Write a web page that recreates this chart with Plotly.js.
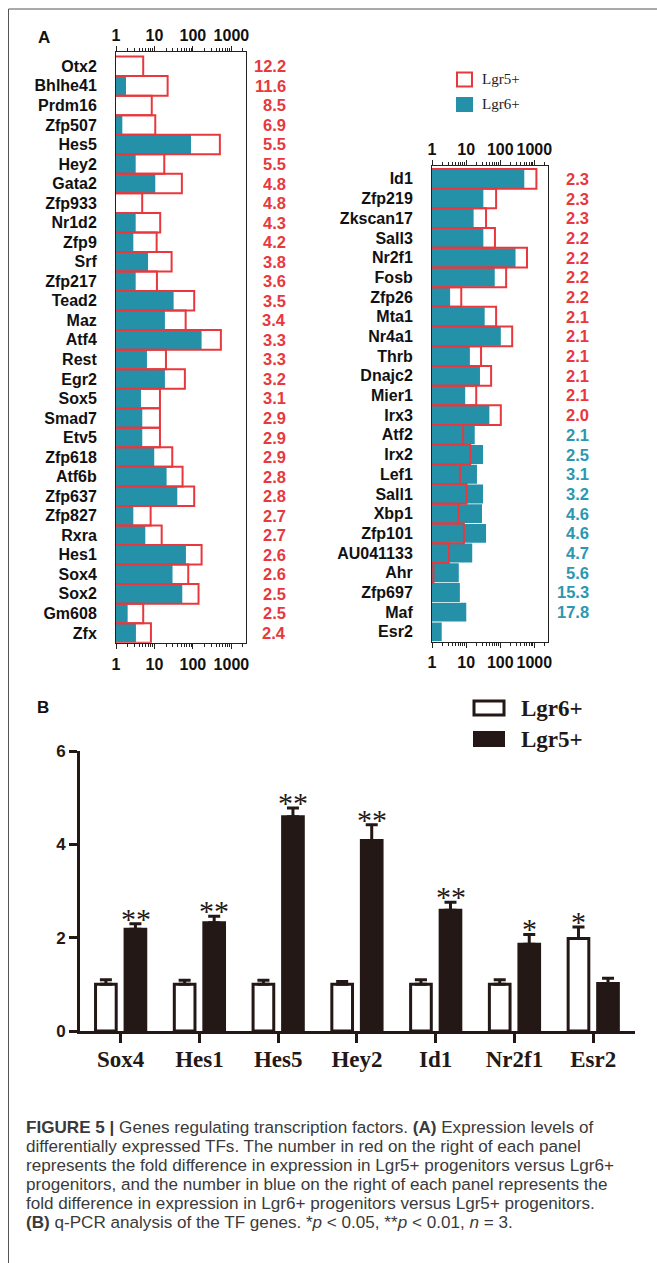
<!DOCTYPE html>
<html>
<head>
<meta charset="utf-8">
<script src="https://cdn.plot.ly/plotly-3.0.1.min.js"></script>
<style>html,body{margin:0;padding:0;background:#fff;}#chart{width:657px;height:1263px;}</style>
</head>
<body>
<div id="chart"></div>
<script>
// ---------- Panel A (left list) ----------
const genesL = ['Otx2','Bhlhe41','Prdm16','Zfp507','Hes5','Hey2','Gata2','Zfp933','Nr1d2','Zfp9','Srf','Zfp217','Tead2','Maz','Atf4','Rest','Egr2','Sox5','Smad7','Etv5','Zfp618','Atf6b','Zfp637','Zfp827','Rxra','Hes1','Sox4','Sox2','Gm608','Zfx'];
const lgr5L = [5.1, 22, 8.5, 10.5, 502, 18, 51.6, 4.8, 14.1, 11.4, 27.9, 11.6, 108, 64.7, 533, 19.9, 61.8, 13.9, 13.9, 13.9, 29, 53.8, 108, 7.95, 15.4, 168, 75.6, 140, 5.1, 8.1];
const lgr6L = [0.42, 1.82, 1.0, 1.46, 89, 3.25, 10.5, 1.0, 3.25, 2.82, 6.8, 3.25, 31.5, 18.7, 168, 6.38, 18.7, 4.46, 4.82, 4.82, 9.86, 20.7, 39.2, 2.82, 5.78, 65.8, 29.5, 52.8, 2.01, 3.3];
const foldL = ['12.2','11.6','8.5','6.9','5.5','5.5','4.8','4.8','4.3','4.2','3.8','3.6','3.5','3.4','3.3','3.3','3.2','3.1','2.9','2.9','2.9','2.8','2.8','2.7','2.7','2.6','2.6','2.5','2.5','2.4'];

// ---------- Panel A (right list) ----------
const genesR = ['Id1','Zfp219','Zkscan17','Sall3','Nr2f1','Fosb','Zfp26','Mta1','Nr4a1','Thrb','Dnajc2','Mier1','Irx3','Atf2','Irx2','Lef1','Sall1','Xbp1','Zfp101','AU041133','Ahr','Zfp697','Maf','Esr2'];
const lgr5R = [1148, 75.7, 38.4, 70, 609, 149, 7.2, 75.7, 224, 27.4, 54, 19.8, 104, 8.2, 13.2, 6.56, 10.3, 6.0, 8.6, 3.1, 1.1, 0.43, 0.57, null];
const lgr6R = [507, 32, 16.6, 32, 281, 69, 3.4, 35, 104, 12.9, 25.5, 9.4, 48, 17.9, 31.3, 20.8, 31.3, 29.2, 38.4, 15.1, 6.1, 6.56, 10.1, 1.93];
const foldR = ['2.3','2.3','2.3','2.2','2.2','2.2','2.2','2.1','2.1','2.1','2.1','2.1','2.0','2.1','2.5','3.1','3.2','4.6','4.6','4.7','5.6','15.3','17.8',''];
const foldHigherR = ['Lgr5','Lgr5','Lgr5','Lgr5','Lgr5','Lgr5','Lgr5','Lgr5','Lgr5','Lgr5','Lgr5','Lgr5','Lgr5','Lgr6','Lgr6','Lgr6','Lgr6','Lgr6','Lgr6','Lgr6','Lgr6','Lgr6','Lgr6',''];

const logTickVals = [1, 10, 100, 1000];
const logTickText = ['1', '10', '100', '1000'];

// ---------- Panel B ----------
const genesB = ['Sox4','Hes1','Hes5','Hey2','Id1','Nr2f1','Esr2'];
const lgr6B = [1.0, 1.0, 1.0, 1.0, 1.0, 1.0, 1.98];
const lgr6Err = [0.10, 0.09, 0.09, 0.06, 0.10, 0.10, 0.25];
const lgr5B = [2.18, 2.32, 4.59, 4.08, 2.59, 1.86, 1.02];
const lgr5Err = [0.12, 0.14, 0.19, 0.34, 0.17, 0.21, 0.11];
const sigLgr6 = ['', '', '', '', '', '', '*'];
const sigLgr5 = ['**', '**', '**', '**', '**', '*', ''];
const yTicksB = [0, 2, 4, 6];

// ---------- caption ----------
const captionLines = [
  '<b>FIGURE 5 |</b> Genes regulating transcription factors. <b>(A)</b> Expression levels of',
  'differentially expressed TFs. The number in red on the right of each panel',
  'represents the fold difference in expression in Lgr5+ progenitors versus Lgr6+',
  'progenitors, and the number in blue on the right of each panel represents the',
  'fold difference in expression in Lgr6+ progenitors versus Lgr5+ progenitors.',
  '<b>(B)</b> q-PCR analysis of the TF genes. *<i>p</i> &lt; 0.05, **<i>p</i> &lt; 0.01, <i>n</i> = 3.'
];

// ---------- styling ----------
const W = 657, H = 1263;
const fx = p => p / W;
const fy = p => 1 - p / H;
const SANS = 'Liberation Sans, Arial, sans-serif';
const SERIF = 'Liberation Serif, Times New Roman, serif';
const TEAL = '#2591a9';
const RED = '#e8383d';
const BLUE_TXT = '#2b97b1';
const INK = '#231815';
const AX = '#222';

const minorVals = [];
[1, 10, 100, 1000].forEach(d => { for (let k = 2; k <= 9; k++) { if (d * k < 2400) minorVals.push(d * k); } });

function logAxis(extra) {
  return Object.assign({
    type: 'log', autorange: false, tickmode: 'array', tickvals: logTickVals, ticktext: logTickText,
    ticks: 'outside', ticklen: 5, tickwidth: 1, tickcolor: AX,
    showline: true, linecolor: AX, linewidth: 1, showgrid: false, zeroline: false,
    tickfont: {family: SANS, size: 16, color: '#111', weight: 'bold'},
    minor: {tickmode: 'array', tickvals: minorVals, ticks: 'outside', ticklen: 3, tickwidth: 1, tickcolor: AX, showgrid: false},
    fixedrange: true
  }, extra);
}
function catAxis(cats, extra) {
  return Object.assign({
    type: 'category', categoryorder: 'array', categoryarray: cats, autorange: false,
    showline: true, mirror: true, linecolor: AX, linewidth: 1, ticks: '', showgrid: false, zeroline: false,
    tickfont: {family: SANS, size: 16, color: '#111', weight: 'bold'}, ticklabelstandoff: 15, fixedrange: true
  }, extra);
}

const traces = [
  {type: 'bar', orientation: 'h', name: 'Lgr6+', x: lgr6L, y: genesL, xaxis: 'x', yaxis: 'y', width: 0.96,
   marker: {color: TEAL, line: {width: 0}}, hoverinfo: 'skip', showlegend: false},
  {type: 'bar', orientation: 'h', name: 'Lgr5+', x: lgr5L, y: genesL, xaxis: 'x2', yaxis: 'y', width: 1,
   marker: {color: 'rgba(0,0,0,0)', line: {color: RED, width: 2}}, hoverinfo: 'skip', showlegend: false},
  {type: 'bar', orientation: 'h', name: 'Lgr6+', x: lgr6R, y: genesR, xaxis: 'x3', yaxis: 'y2', width: 0.96,
   marker: {color: TEAL, line: {width: 0}}, hoverinfo: 'skip', showlegend: false},
  {type: 'bar', orientation: 'h', name: 'Lgr5+', x: lgr5R, y: genesR, xaxis: 'x4', yaxis: 'y2', width: 1,
   marker: {color: 'rgba(0,0,0,0)', line: {color: RED, width: 2}}, hoverinfo: 'skip', showlegend: false},
  {type: 'bar', name: 'Lgr6+', x: genesB, y: lgr6B, xaxis: 'x5', yaxis: 'y3',
   marker: {color: '#ffffff', line: {color: INK, width: 3}},
   error_y: {type: 'data', symmetric: false, array: lgr6Err, arrayminus: lgr6Err.map(() => 0), color: INK, thickness: 3, width: 6},
   hoverinfo: 'skip', showlegend: false},
  {type: 'bar', name: 'Lgr5+', x: genesB, y: lgr5B, xaxis: 'x5', yaxis: 'y3',
   marker: {color: INK, line: {color: INK, width: 3}},
   error_y: {type: 'data', symmetric: false, array: lgr5Err, arrayminus: lgr5Err.map(() => 0), color: INK, thickness: 3, width: 6},
   hoverinfo: 'skip', showlegend: false}
];

const annotations = [];
// fold numbers
genesL.forEach((g, i) => annotations.push({xref: 'paper', yref: 'y', x: fx(288), y: g, xanchor: 'right', yanchor: 'middle',
  text: foldL[i], showarrow: false, font: {family: SANS, size: 16.5, color: RED, weight: 'bold'}}));
genesR.forEach((g, i) => { if (foldR[i]) annotations.push({xref: 'paper', yref: 'y2', x: fx(591), y: g, xanchor: 'right', yanchor: 'middle',
  text: foldR[i], showarrow: false, font: {family: SANS, size: 16.5, color: foldHigherR[i] === 'Lgr5' ? RED : BLUE_TXT, weight: 'bold'}}); });
// significance stars
genesB.forEach((g, i) => {
  if (sigLgr5[i]) annotations.push({xref: 'x5', yref: 'y3', x: g, y: lgr5B[i] + lgr5Err[i], xshift: 15, yshift: -13,
    xanchor: 'center', yanchor: 'bottom', text: sigLgr5[i], showarrow: false, font: {family: SERIF, size: 30, color: INK}});
  if (sigLgr6[i]) annotations.push({xref: 'x5', yref: 'y3', x: g, y: lgr6B[i] + lgr6Err[i], xshift: -15, yshift: -13,
    xanchor: 'center', yanchor: 'bottom', text: sigLgr6[i], showarrow: false, font: {family: SERIF, size: 30, color: INK}});
});
// panel letters
annotations.push({xref: 'paper', yref: 'paper', x: fx(36), y: fy(37), xanchor: 'left', yanchor: 'middle', text: 'A', showarrow: false,
  font: {family: SANS, size: 17, color: '#111', weight: 'bold'}});
annotations.push({xref: 'paper', yref: 'paper', x: fx(35), y: fy(707), xanchor: 'left', yanchor: 'middle', text: 'B', showarrow: false,
  font: {family: SANS, size: 17, color: '#111', weight: 'bold'}});
// legend texts
annotations.push({xref: 'paper', yref: 'paper', x: fx(480), y: fy(79.5), xanchor: 'left', yanchor: 'middle', text: 'Lgr5+', showarrow: false,
  font: {family: SERIF, size: 15, color: '#222'}});
annotations.push({xref: 'paper', yref: 'paper', x: fx(480), y: fy(104.5), xanchor: 'left', yanchor: 'middle', text: 'Lgr6+', showarrow: false,
  font: {family: SERIF, size: 15, color: '#222'}});
annotations.push({xref: 'paper', yref: 'paper', x: fx(519), y: fy(708), xanchor: 'left', yanchor: 'middle', text: 'Lgr6+', showarrow: false,
  font: {family: SERIF, size: 23, color: INK, weight: 'bold'}});
annotations.push({xref: 'paper', yref: 'paper', x: fx(519), y: fy(739), xanchor: 'left', yanchor: 'middle', text: 'Lgr5+', showarrow: false,
  font: {family: SERIF, size: 23, color: INK, weight: 'bold'}});
// caption, one annotation per line
const captionY = [1127, 1146, 1165, 1184.3, 1203.3, 1222.3];
captionLines.forEach((t, i) => annotations.push({xref: 'paper', yref: 'paper', x: fx(24), y: fy(captionY[i]), xanchor: 'left', yanchor: 'middle',
  align: 'left', text: t, showarrow: false, font: {family: SANS, size: 17.1, color: '#3a3a3a'}}));

const shapes = [
  {type: 'line', xref: 'paper', yref: 'paper', x0: fx(8.5), x1: fx(8.5), y0: fy(9), y1: 0, line: {color: '#555', width: 1}},
  {type: 'line', xref: 'paper', yref: 'paper', x0: fx(8.5), x1: 1, y0: fy(9), y1: fy(9), line: {color: '#555', width: 1}},
  // legend A
  {type: 'rect', xref: 'paper', yref: 'paper', x0: fx(457), x1: fx(472), y0: fy(72.5), y1: fy(86.5), fillcolor: '#fff', line: {color: RED, width: 2}},
  {type: 'rect', xref: 'paper', yref: 'paper', x0: fx(456), x1: fx(473), y0: fy(97), y1: fy(112), fillcolor: TEAL, line: {width: 0}},
  // legend B
  {type: 'rect', xref: 'paper', yref: 'paper', x0: fx(474), x1: fx(504), y0: fy(701), y1: fy(715), fillcolor: '#fff', line: {color: INK, width: 3}},
  {type: 'rect', xref: 'paper', yref: 'paper', x0: fx(473), x1: fx(505), y0: fy(731), y1: fy(747), fillcolor: INK, line: {width: 0}}
];

const layout = {
  width: W, height: H, margin: {l: 0, r: 0, t: 0, b: 0},
  paper_bgcolor: '#fff', plot_bgcolor: 'rgba(0,0,0,0)',
  showlegend: false, hovermode: false, barmode: 'group', bargap: 0.25, bargroupgap: 0.3,
  xaxis: logAxis({domain: [fx(116), fx(246)], range: [0, 3.38], anchor: 'y', side: 'bottom', ticklabelstandoff: 2}),
  xaxis2: logAxis({domain: [fx(116), fx(246)], range: [0, 3.38], anchor: 'y', overlaying: 'x', side: 'top', ticklabelstandoff: -2}),
  xaxis3: logAxis({domain: [fx(432), fx(548)], range: [0, 3.4], anchor: 'y2', side: 'bottom', ticklabelstandoff: 1}),
  xaxis4: logAxis({domain: [fx(432), fx(548)], range: [0, 3.4], anchor: 'y2', overlaying: 'x3', side: 'top', ticklabelstandoff: -1}),
  yaxis: catAxis(genesL, {domain: [fy(642.7), fy(51.7)], range: [genesL.length - 0.5, -0.75], anchor: 'x'}),
  yaxis2: catAxis(genesR, {domain: [fy(641.7), fy(166)], range: [genesR.length - 0.5, -0.65], anchor: 'x3'}),
  xaxis5: {domain: [fx(80), fx(635)], anchor: 'y3', type: 'category', range: [-0.516, 6.53], autorange: false,
    showline: true, linecolor: INK, linewidth: 3, ticks: 'outside', ticklen: 9, tickwidth: 3, tickcolor: INK, ticklabelstandoff: -4,
    showgrid: false, zeroline: false, tickfont: {family: SERIF, size: 23, color: INK, weight: 'bold'}, fixedrange: true},
  yaxis3: {domain: [fy(1031), fy(751)], anchor: 'x5', range: [0, 6], autorange: false, tickmode: 'array', tickvals: yTicksB,
    showline: true, linecolor: INK, linewidth: 3, ticks: 'outside', ticklen: 8, tickwidth: 3, tickcolor: INK,
    showgrid: false, zeroline: false, tickfont: {family: SANS, size: 17, color: INK, weight: 'bold'}, fixedrange: true},
  annotations: annotations,
  shapes: shapes
};

Plotly.newPlot('chart', traces, layout, {staticPlot: true, displayModeBar: false});
</script>
</body>
</html>
